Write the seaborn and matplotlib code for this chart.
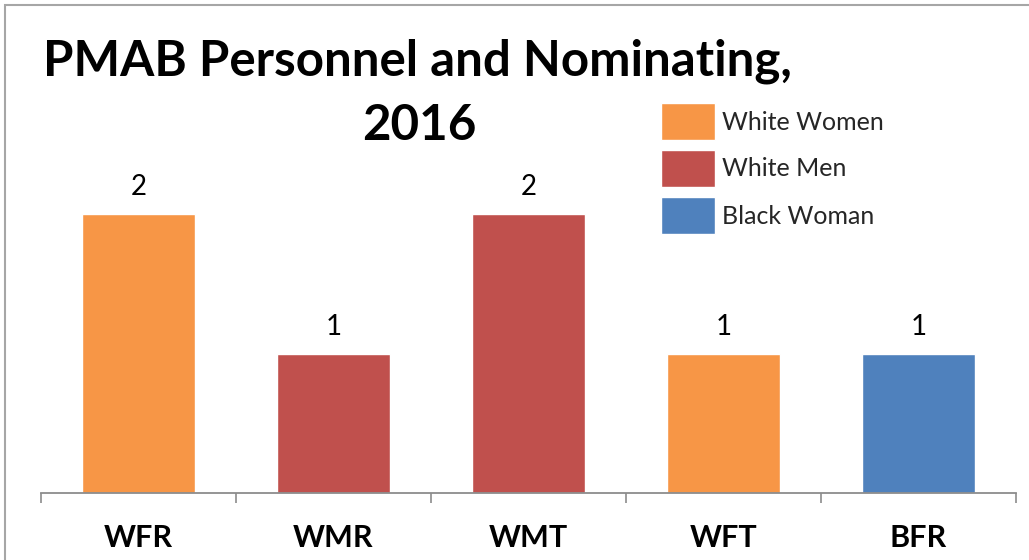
import matplotlib
matplotlib.use("Agg")
import matplotlib.pyplot as plt
from matplotlib.patches import Rectangle
import seaborn as sns
import pandas as pd

# ---- data ----
categories = ["WFR", "WMR", "WMT", "WFT", "BFR"]
values = [2, 1, 2, 1, 1]
groups = ["White Women", "White Men", "White Men", "White Women", "Black Woman"]
legend_order = ["White Women", "White Men", "Black Woman"]
colors = {"White Women": "#F79646", "White Men": "#C0504D", "Black Woman": "#4F81BD"}
title_line1 = "PMAB Personnel and Nominating,"
title_line2 = "2016"

df = pd.DataFrame({"cat": categories, "val": values, "group": groups})

sns.set_theme(style="white")
plt.rcParams["font.family"] = ["Lato", "DejaVu Sans"]

W, H = 1029, 560
fig = plt.figure(figsize=(W / 100, H / 100), dpi=100)

# axes placed in pixel geometry
left, right, bottom, top = 41, 1016, 493, 74.5
ax = fig.add_axes([left / W, 1 - bottom / H, (right - left) / W, (bottom - top) / H])

sns.barplot(data=df, x="cat", y="val", hue="group", hue_order=legend_order,
            palette=colors, dodge=False, width=0.575, ax=ax, saturation=1,
            legend=True)

ax.set_xlim(-0.5, len(categories) - 0.5)
ax.set_ylim(0, 3)
ax.set_xlabel("")
ax.set_ylabel("")
ax.set_yticks([])
for s in ["top", "left", "right"]:
    ax.spines[s].set_visible(False)
ax.spines["bottom"].set_color("#8c8c8c")
ax.spines["bottom"].set_linewidth(1.3)

ax.set_xticks(range(len(categories)))
ax.set_xticklabels(categories, fontsize=22, fontweight="bold", color="black")
ax.set_xticks([i - 0.5 for i in range(len(categories) + 1)], minor=True)
ax.tick_params(axis="x", which="major", length=0, pad=22)
ax.tick_params(axis="x", which="minor", length=7.5, width=1.2, color="#8c8c8c", bottom=True)

for c in ax.containers:
    ax.bar_label(c, fmt="%g", padding=10, fontsize=20, color="black")

# legend
leg = ax.legend(loc="upper left", bbox_to_anchor=(661 / W, 1 - 103 / H),
                bbox_transform=fig.transFigure, frameon=False, fontsize=18,
                handlelength=2.16, handleheight=1.9, handletextpad=0.28,
                labelspacing=0.4, borderpad=0, borderaxespad=0)

# title
fig.text(417 / W, 1 - 75 / H, title_line1, ha="center", va="baseline",
         fontsize=35.5, fontweight="bold", color="black")
fig.text(419 / W, 1 - 140 / H, title_line2, ha="center", va="baseline",
         fontsize=35.5, fontweight="bold", color="black")

# chart-area border (only left/top visible in the crop)
fig.patches.append(Rectangle((5 / W, -0.2), 2, 1.2 - 5 / H, transform=fig.transFigure,
                             fill=False, edgecolor="#a6a6a6", linewidth=1.5))

fig.savefig("out.png", dpi=100)
